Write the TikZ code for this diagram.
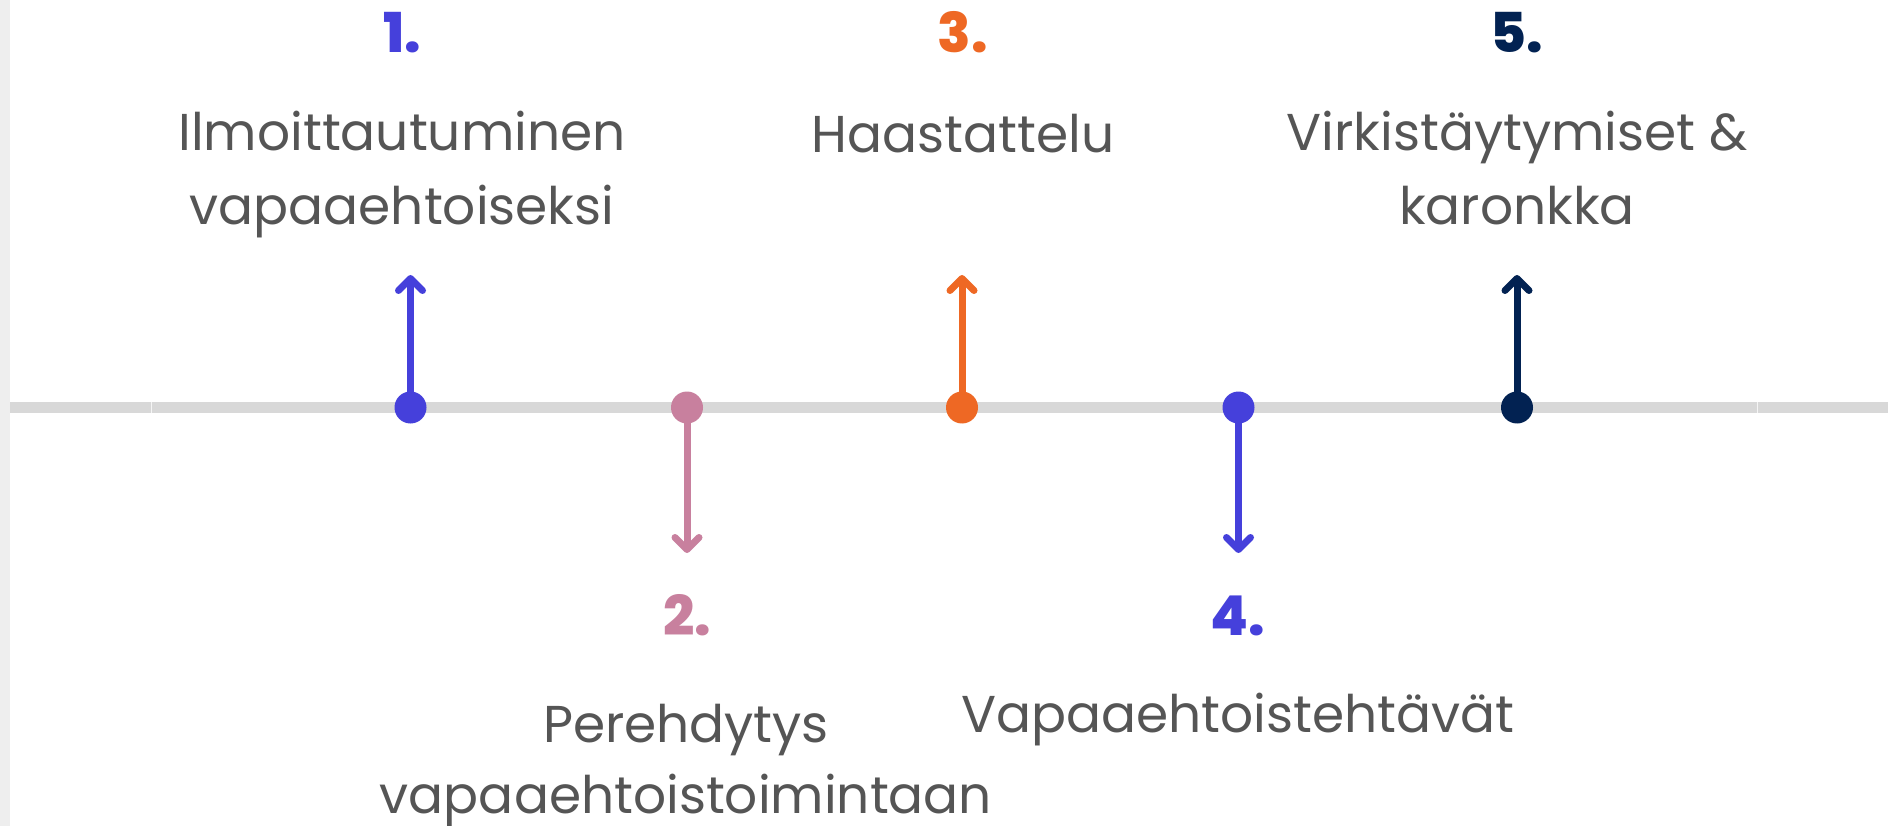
\documentclass[tikz,border=0pt]{standalone}
\usepackage{fontspec}
\setmainfont{Poppins}
\newfontfamily\numfont{Poppins ExtraBold}
\usetikzlibrary{arrows.meta}
\definecolor{cblue}{RGB}{69,64,219}
\definecolor{cpink}{RGB}{200,128,158}
\definecolor{corange}{RGB}{238,104,36}
\definecolor{cnavy}{RGB}{2,34,82}
\definecolor{tgray}{RGB}{85,85,85}
\definecolor{linegray}{RGB}{216,216,216}
\definecolor{stripgray}{RGB}{238,238,238}
\tikzset{
  dotnode/.style={circle, inner sep=0pt, minimum size=32pt, draw=none},
  steparrow/.style={line width=7pt, line cap=round, -{Straight Barb[length=12pt,width=24pt,round]}},
  lbl/.style={font=\fontsize{51.8}{64}\selectfont, text=tgray, anchor=base, inner sep=0pt},
  num/.style={font=\fontsize{55}{64}\numfont, anchor=base, inner sep=0pt}
}
\begin{document}
\begin{tikzpicture}[x=1pt,y=-1pt]
\useasboundingbox (0,0) rectangle (1888,826);
\fill[white] (0,0) rectangle (1888,826);
\fill[stripgray] (0,0) rectangle (10,826);
% timeline
\fill[linegray] (10,402) rectangle (1888,413);
\fill[stripgray!60!white] (150.5,402) rectangle (152,413);
\fill[stripgray!60!white] (1756.5,402) rectangle (1758,413);
% dots
\node[dotnode, fill=cblue]   (d1) at (410.5,407.5) {};
\node[dotnode, fill=cpink]   (d2) at (687,407.5) {};
\node[dotnode, fill=corange] (d3) at (962,407.5) {};
\node[dotnode, fill=cblue]   (d4) at (1238.5,407.5) {};
\node[dotnode, fill=cnavy]   (d5) at (1517,407.5) {};
% arrow tips
\coordinate (t1) at (410.5,275);
\coordinate (t2) at (687,553);
\coordinate (t3) at (962,275);
\coordinate (t4) at (1238.5,553);
\coordinate (t5) at (1517,275);
\draw[steparrow, cblue]   (d1.center) -- (t1);
\draw[steparrow, cpink]   (d2.center) -- (t2);
\draw[steparrow, corange] (d3.center) -- (t3);
\draw[steparrow, cblue]   (d4.center) -- (t4);
\draw[steparrow, cnavy]   (d5.center) -- (t5);
% numbers
\node[num, text=cblue]   (n1) at (402,53) {1.};
\node[num, text=cpink]   (n2) at (687,635) {2.};
\node[num, text=corange] (n3) at (963,53) {3.};
\node[num, text=cblue]   (n4) at (1238,635) {4.};
\node[num, text=cnavy]   (n5) at (1517,53) {5.};
% labels
\node[lbl] (l1a) at (402,151) {Ilmoittautuminen};
\node[lbl] (l1b) at (402,225) {vapaaehtoiseksi};
\node[lbl] (l2a) at (686,742) {Perehdytys};
\node[lbl] (l2b) at (686,813) {vapaaehtoistoimintaan};
\node[lbl] (l3)  at (963,153) {Haastattelu};
\node[lbl] (l4)  at (1238,732) {Vapaaehtoistehtävät};
\node[lbl] (l5a) at (1517,151) {Virkistäytymiset \&};
\node[lbl] (l5b) at (1517,225) {karonkka};
\end{tikzpicture}
\end{document}
